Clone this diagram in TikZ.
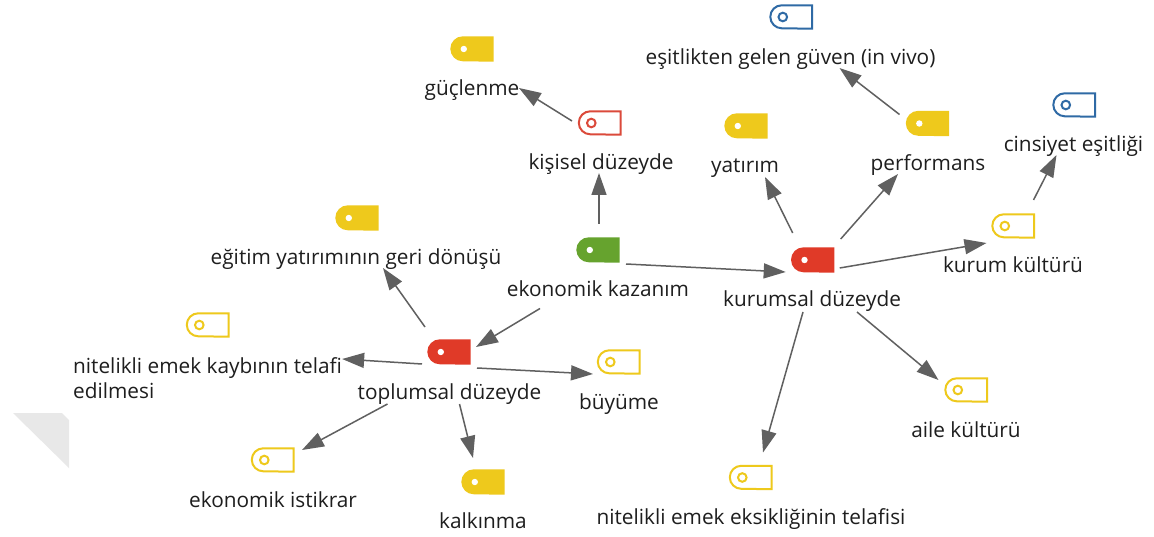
\documentclass[tikz,border=0pt]{standalone}
\usepackage{fontspec}
\setmainfont{Open Sans}
\usetikzlibrary{calc,arrows.meta}
\definecolor{tagyellow}{HTML}{EEC91C}
\definecolor{tagred}{HTML}{E03A28}
\definecolor{taggreen}{HTML}{66A32E}
\definecolor{tagblue}{HTML}{2F6AA5}
\definecolor{outred}{HTML}{DB4A3B}
\definecolor{arrowgray}{HTML}{606060}
\definecolor{txt}{HTML}{1E1E1E}
\tikzset{
  lbl/.style={font=\fontsize{20.8}{25}\selectfont,text=txt,inner sep=0pt,anchor=base},
  conn/.style={draw=arrowgray,line width=1.5pt,-{Triangle[length=22pt,width=15pt,fill=arrowgray]}},
  tagbox/.style={minimum width=43pt,minimum height=25pt,inner sep=0pt,draw=none}
}
% solid tag: name, x, y, colour
\newcommand{\solidtag}[4]{%
  \node[tagbox] (#1) at (#2,#3) {};
  \fill[#4] (#1.north east) -- ($(#1.north west)+(12.5,0)$)
     arc[start angle=90,end angle=270,radius=12.5pt] -- (#1.south east) -- cycle;
  \fill[white] ($(#1.west)+(13.5,0)$) circle[radius=3.2pt];
}
% outlined tag: name, x, y, colour
\newcommand{\opentag}[4]{%
  \node[tagbox] (#1) at (#2,#3) {};
  \draw[#4,line width=2pt] ($(#1.north east)+(-1,1)$) -- ($(#1.north west)+(12,1)$)
     arc[start angle=90,end angle=270,radius=11.5pt] -- ($(#1.south east)+(-1,-1)$) -- cycle;
  \draw[#4,line width=2pt] ($(#1.west)+(13,0)$) circle[radius=4.3pt];
}
\begin{document}
\begin{tikzpicture}[x=1pt,y=-1pt]
\useasboundingbox (0,0) rectangle (1154,537);
\fill[white] (0,0) rectangle (1154,537);
% faint folded-corner mark
\fill[black!9] (13,413) -- (62,413) -- (69,420) -- (69,468) -- cycle;

% tags
\solidtag{tGuc}{472}{49}{tagyellow}
\opentag{tKis}{600}{123}{outred}
\opentag{tEsit}{791.5}{17}{tagblue}
\solidtag{tPerf}{927.5}{123.5}{tagyellow}
\solidtag{tYat}{746}{126}{tagyellow}
\opentag{tCins}{1074.5}{105}{tagblue}
\opentag{tKurK}{1013.5}{226}{tagyellow}
\solidtag{tKurD}{812.7}{260}{tagred}
\solidtag{tEko}{598}{250}{taggreen}
\solidtag{tEgi}{357}{218}{tagyellow}
\opentag{tNit}{208}{325}{tagyellow}
\solidtag{tTop}{449}{352}{tagred}
\opentag{tBuy}{619}{362}{tagyellow}
\opentag{tIst}{273}{460}{tagyellow}
\solidtag{tKal}{483}{482}{tagyellow}
\opentag{tEks}{751}{477.5}{tagyellow}
\opentag{tAil}{966.5}{390}{tagyellow}

% labels
\node[lbl] (lGuc) at (472,96) {güçlenme};
\node[lbl] (lKis) at (601,170) {kişisel düzeyde};
\node[lbl] (lEsit) at (790.5,65) {eşitlikten gelen güven (in vivo)};
\node[lbl] (lPerf) at (928,171) {performans};
\node[lbl] (lYat) at (745,173) {yatırım};
\node[lbl] (lCins) at (1073.5,152) {cinsiyet eşitliği};
\node[lbl] (lKurK) at (1013,272.5) {kurum kültürü};
\node[lbl] (lKurD) at (812,307) {kurumsal düzeyde};
\node[lbl] (lEko) at (598,296.5) {ekonomik kazanım};
\node[lbl] (lEgi) at (356,265) {eğitim yatırımının geri dönüşü};
\node[lbl,align=left,anchor=north west] (lNit) at (73,357) {nitelikli emek kaybının telafi\\edilmesi};
\node[lbl] (lTop) at (449.5,399) {toplumsal düzeyde};
\node[lbl] (lBuy) at (619,409) {büyüme};
\node[lbl] (lIst) at (273,507) {ekonomik istikrar};
\node[lbl] (lKal) at (483,528) {kalkınma};
\node[lbl] (lEks) at (751,524) {nitelikli emek eksikliğinin telafisi};
\node[lbl] (lAil) at (966,437) {aile kültürü};

% connectors
\draw[conn] ($(tEko)+(1,-26)$) -- ($(lKis.base)+(-2,3)$);
\draw[conn] ($(tKis)+(-28,-2)$) -- ($(lGuc.base)+(47,-8)$);
\draw[conn] ($(tEko)+(28,14)$) -- ($(tKurD)+(-27,12)$);
\draw[conn] ($(lEko.base)+(-58,12)$) -- ($(tTop)+(27,-5)$);
\draw[conn] ($(tTop)+(-24,-25)$) -- ($(lEgi.base)+(27,3)$);
\draw[conn] ($(tTop)+(-27,12)$) -- ($(lNit.north east)+(0,2)$);
\draw[conn] ($(tTop)+(28,16)$) -- ($(tBuy)+(-26,12)$);
\draw[conn] ($(lTop.base)+(-62,5)$) -- ($(tIst)+(29,-10)$);
\draw[conn] ($(lTop.base)+(10,5)$) -- ($(tKal)+(-10,-24)$);
\draw[conn] ($(tKurD)+(-20,-27)$) -- ($(lYat.base)+(20,4)$);
\draw[conn] ($(tKurD)+(28,-21)$) -- ($(lPerf.base)+(-30,3)$);
\draw[conn] ($(tKurD)+(27,8)$) -- ($(tKurK)+(-27,17)$);
\draw[conn] ($(tPerf)+(-28,-9)$) -- ($(lEsit.base)+(49,3)$);
\draw[conn] ($(tKurK)+(20,-26)$) -- ($(lCins.base)+(-17,3)$);
\draw[conn] ($(lKurD.base)+(-9,5)$) -- ($(tEks)+(12,-25)$);
\draw[conn] ($(lKurD.base)+(45,5)$) -- ($(tAil)+(-28,-10)$);
\end{tikzpicture}
\end{document}
